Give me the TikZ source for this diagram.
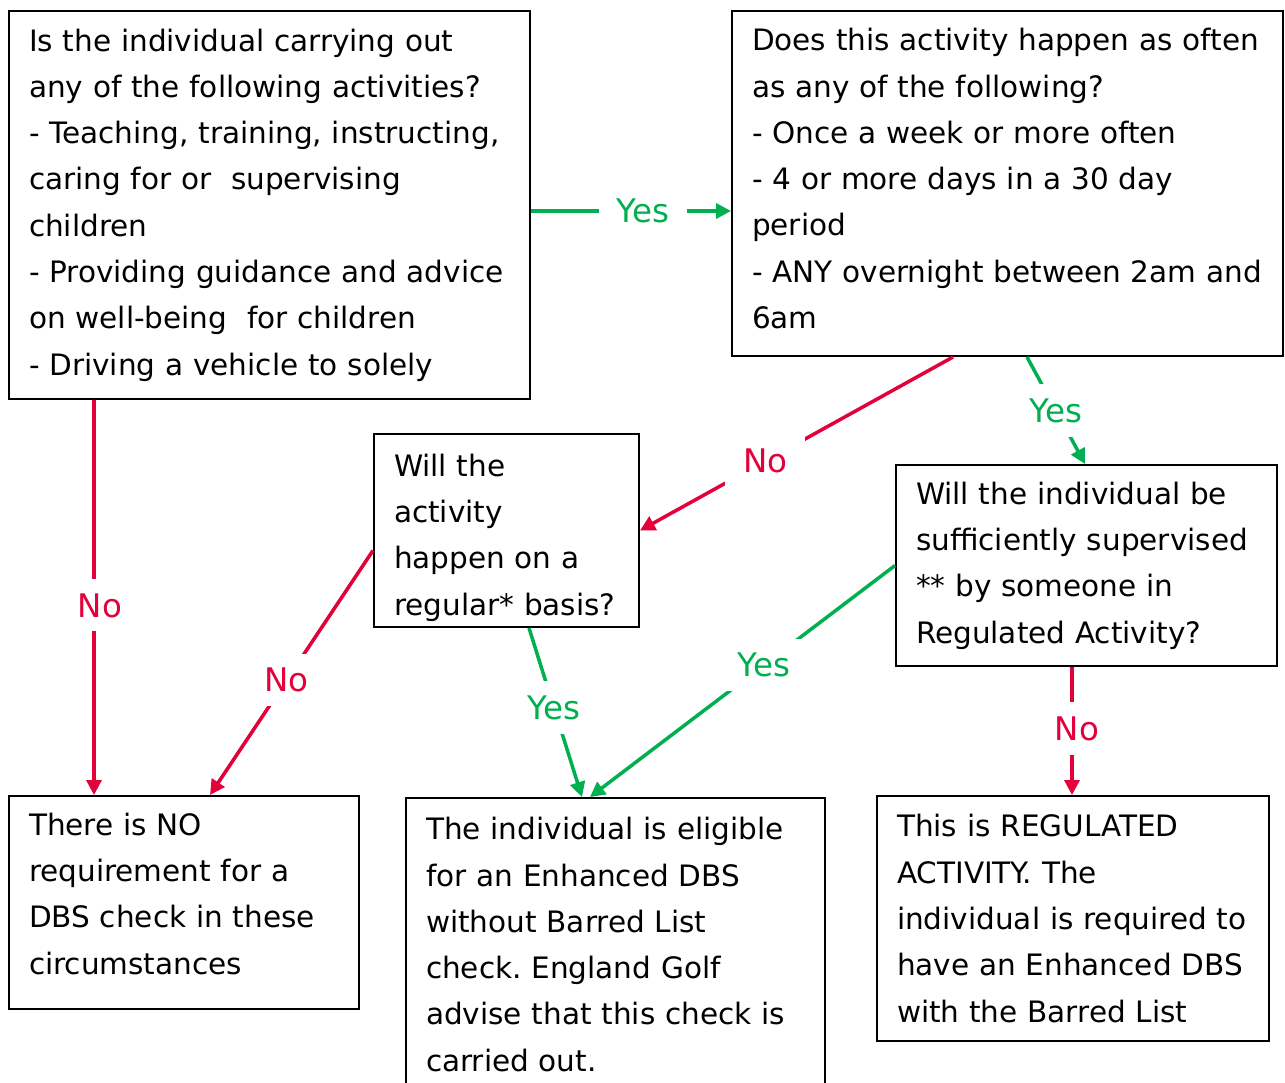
\documentclass[tikz,border=0pt]{standalone}
\usepackage{fontspec}
\setmainfont{DejaVu Sans}
\usetikzlibrary{arrows.meta}
\definecolor{yesgreen}{RGB}{0,176,80}
\definecolor{nored}{RGB}{228,0,58}
\frenchspacing

\begin{document}
\begin{tikzpicture}[x=1pt, y=-1pt, font=\fontsize{29.5}{46.3}\selectfont,
    box/.style={draw, line width=2pt, anchor=north west, align=left, inner xsep=20pt, inner ysep=0pt},
    conn/.style={line width=3.5pt, -{Triangle[length=15pt,width=15pt]}},
    yes/.style={conn, draw=yesgreen},
    no/.style={conn, draw=nored},
    lbl/.style={fill=white, inner xsep=18pt, inner ysep=14pt, font=\fontsize{32.5}{40}\selectfont},
    yeslbl/.style={lbl, text=yesgreen},
    nolbl/.style={lbl, text=nored}]
    \useasboundingbox (0,0) rectangle (1285,1082);
    \node[box, text width=481pt, minimum height=388pt] (act) at (8,10) {Is the individual carrying out\\ any of the following activities?\\ - Teaching, training, instructing,\\ caring for or~ supervising\\ children\\ - Providing guidance and advice\\ on well-being~ for children\\ - Driving a vehicle to solely};
    \node[box, text width=511pt, minimum height=345pt, text depth=288pt] (often) at (731,10) {Does this activity happen as often\\ as any of the following?\\ - Once a week or more often\\ - 4 or more days in a 30 day\\ period\\ - ANY overnight between 2am and\\ 6am};
    \node[box, text width=225pt, minimum height=193pt, text depth=131pt] (regular) at (373,433) {Will the\\ activity\\ happen on a\\ regular* basis?};
    \node[box, text width=341pt, minimum height=201pt] (superv) at (895,464) {Will the individual be\\ sufficiently supervised\\ {}** by someone in\\ Regulated Activity?};
    \node[box, text width=310pt, minimum height=213pt, text depth=157pt] (nocheck) at (8,795) {There is NO\\ requirement for a\\ DBS check in these\\ circumstances};
    \node[box, text width=379pt, minimum height=293pt] (enhanced) at (405,797) {The individual is eligible\\ for an Enhanced DBS\\ without Barred List\\ check. England Golf\\ advise that this check is\\ carried out.};
    \node[box, text width=352pt, minimum height=245pt] (regulated) at (876,795) {This is REGULATED\\ ACTIVITY. The\\ individual is required to\\ have an Enhanced DBS\\ with the Barred List};

    % connectors
    \draw[yes] ([yshift=-6pt]act.east) -- node[yeslbl, pos=0.56] (y1) {Yes} ([yshift=-6pt]act.east -| often.west);
    \draw[no] ([xshift=222pt]often.south west) -- node[nolbl, pos=0.6] (n1) {No} (regular.east);
    \draw[yes] ([xshift=296pt]often.south west) -- node[yeslbl, pos=0.5] (y2) {Yes} ([xshift=190pt]superv.north west);
    \draw[no] ([xshift=86pt]act.south west) -- node[nolbl, pos=0.52, xshift=6pt] (n2) {No} ([xshift=86pt]nocheck.north west);
    \draw[no] ([yshift=-20pt]regular.west) -- node[nolbl, pos=0.53] (n3) {No} ([xshift=202pt]nocheck.north west);
    \draw[yes] ([xshift=156pt]regular.south west) -- node[yeslbl, pos=0.47] (y3) {Yes} ([xshift=177pt]enhanced.north west);
    \draw[yes] (superv.west) -- node[yeslbl, pos=0.43] (y4) {Yes} ([xshift=185pt]enhanced.north west);
    \draw[no] ([xshift=177pt]superv.south west) -- node[nolbl, pos=0.48, xshift=5pt] (n4) {No} ([xshift=196pt]regulated.north west);
\end{tikzpicture}
\end{document}
